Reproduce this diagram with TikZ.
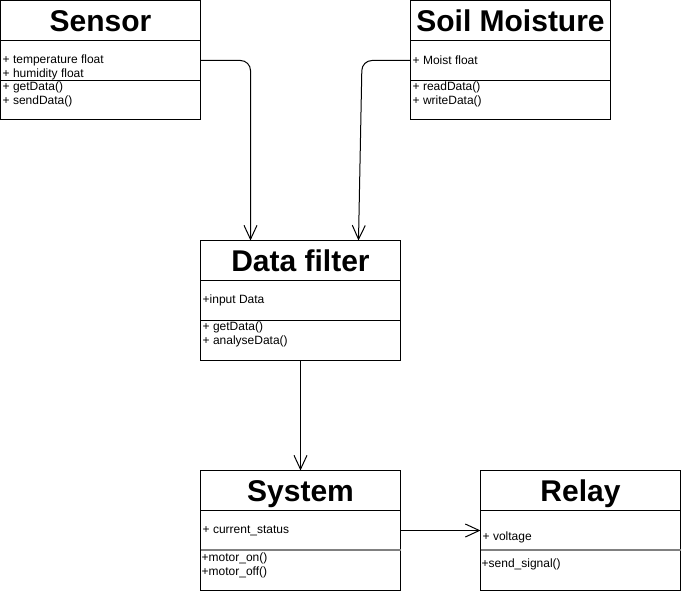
\documentclass[tikz,border=0pt]{standalone}
\usepackage{fontspec}
\setmainfont{Liberation Sans}
\usetikzlibrary{arrows.meta}
\begin{document}
\begin{tikzpicture}[x=1pt,y=-1pt,
 cls/.style={draw, line width=1pt, minimum width=200pt, minimum height=119.5pt, inner sep=0pt, outer sep=0pt, anchor=north west},
 ttl/.style={font=\fontsize{30}{36}\selectfont\bfseries, anchor=base, inner sep=0pt},
 txt/.style={font=\fontsize{12}{14}\selectfont, anchor=west, align=left, inner sep=0pt},
 dv/.style={line width=1pt},
 dvg/.style={line width=2pt, draw=black!50},
 arr/.style={line width=1pt, -{Straight Barb[length=14pt,width=13pt]}},
]
\useasboundingbox (0,0) rectangle (682,591);

\node[cls] (sensor) at (0.5,0.5) {};
\node[cls] (soil) at (410.5,0.5) {};
\node[cls] (filter) at (200.5,240.5) {};
\node[cls] (system) at (200.5,470.5) {};
\node[cls] (relay) at (480.5,470.5) {};

% titles
\node[ttl] (sensorT) at ([yshift=-31.5pt]sensor.north) {Sensor};
\node[ttl] (soilT) at ([yshift=-31.5pt]soil.north) {Soil Moisture};
\node[ttl] (filterT) at ([yshift=-31pt]filter.north) {Data filter};
\node[ttl] (systemT) at ([yshift=-31pt]system.north) {System};
\node[ttl] (relayT) at ([yshift=-31pt]relay.north) {Relay};

% dividers
\foreach \n in {sensor,soil,filter,system,relay}{
  \draw[dv] ([yshift=-40pt]\n.north west) -- ([yshift=-40pt]\n.north east);
}
\foreach \n in {sensor,soil,filter}{
  \draw[dv] ([yshift=-80pt]\n.north west) -- ([yshift=-80pt]\n.north east);
}
\foreach \n in {system,relay}{
  \draw[dvg] ([yshift=-79.5pt]\n.north west) -- ([yshift=-79.5pt]\n.north east);
}

% texts
\node[txt] (sensorA) at ([xshift=2pt,yshift=-66.5pt]sensor.north west) {+ temperature float\\+ humidity float};
\node[txt] (sensorM) at ([xshift=2pt,yshift=-94pt]sensor.north west) {+ getData()\\+ sendData()};
\node[txt] (soilA) at ([xshift=2pt,yshift=-60pt]soil.north west) {+ Moist float};
\node[txt] (soilM) at ([xshift=2pt,yshift=-94pt]soil.north west) {+ readData()\\+ writeData()};
\node[txt] (filterA) at ([xshift=2pt,yshift=-60pt]filter.north west) {+input Data};
\node[txt] (filterM) at ([xshift=2pt,yshift=-94pt]filter.north west) {+ getData()\\+ analyseData()};
\node[txt] (systemA) at ([xshift=2pt,yshift=-60pt]system.north west) {+ current\_status};
\node[txt] (systemM) at ([xshift=1pt,yshift=-95pt]system.north west) {+motor\_on()\\+motor\_off()};
\node[txt] (relayA) at ([xshift=2pt,yshift=-67pt]relay.north west) {+ voltage};
\node[txt] (relayM) at ([xshift=1pt,yshift=-94pt]relay.north west) {+send\_signal()};

% connectors
\draw[arr, rounded corners=10pt] ([yshift=-60pt]sensor.north east) -| ([xshift=50pt]filter.north west);
\coordinate (bend) at (362,60.5);
\draw[arr, rounded corners=10pt] ([yshift=-60pt]soil.north west) -- (bend) -- ([xshift=158pt]filter.north west);
\draw[arr] (filter.south) -- (system.north);
\draw[arr] ([yshift=-60pt]system.north east) -- ([yshift=-60pt]relay.north west);
\end{tikzpicture}
\end{document}
